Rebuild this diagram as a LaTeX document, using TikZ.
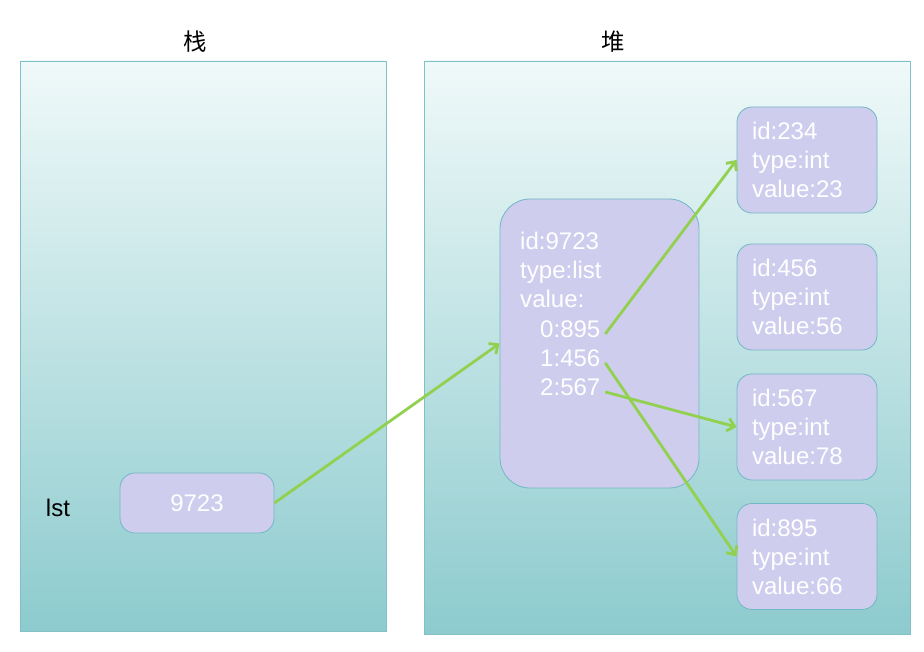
\documentclass[tikz,border=0pt]{standalone}
\usepackage{fontspec}
\setmainfont{Liberation Sans}
\newfontfamily\cjk{Noto Sans CJK SC}
\usetikzlibrary{positioning, arrows.meta}

\definecolor{boxfill}{HTML}{CFCDEE}
\definecolor{boxline}{HTML}{72B8C4}
\definecolor{panelline}{HTML}{80C0C6}
\definecolor{paneltop}{HTML}{F0F9F9}
\definecolor{panelbottom}{HTML}{8DCBCE}
\definecolor{linkgreen}{HTML}{92D050}

\begin{document}
\begin{tikzpicture}[
					x=0.03cm, y=-0.03cm,
					panel/.style={draw=panelline, line width=0.7pt, top color=paneltop, bottom color=panelbottom},
					obj/.style={draw=boxline, line width=0.7pt, fill=boxfill, rounded corners=0.45cm, text=white,
						font=\fontsize{20.5}{24.7}\selectfont},
					field/.style={anchor=base west, inner sep=0pt, text=white, font=\fontsize{20.5}{24.7}\selectfont},
					title/.style={font=\cjk\fontsize{20}{24}\selectfont},
					link/.style={draw=linkgreen, line width=2.4pt, -{Straight Barb[length=6pt, width=11pt]}}
					]
					\useasboundingbox (0,0) rectangle (924,652);
					% stack and heap
					\draw[panel] (20,61) rectangle (386,631);
					\draw[panel] (424,61) rectangle (910,634);
					\node[title] (stackTitle) at (195,42) {栈};
					\node[title] (heapTitle) at (613,42) {堆};
					% variable on the stack
					\node[font=\fontsize{20.5}{24.7}\selectfont] (lst) at (58,508) {lst};
					\node[obj, minimum width=4.62cm, minimum height=1.8cm] (ref) at (197,503) {9723};
					% list object
					\node[obj, rounded corners=0.9cm, minimum width=5.97cm, minimum height=8.67cm] (listObj) at (599.5,343.5) {};
					\node[field] (listId) at (520,249.5) {id:9723};
					\node[field] (listType) at (520,278.5) {type:list};
					\node[field] (listValue) at (520,307.5) {value:};
					\node[field] (e0) at (540,337.5) {0:895};
					\node[field] (e1) at (540,366.5) {1:456};
					\node[field] (e2) at (540,395.5) {2:567};
					% int objects
					\foreach \name/\idv/\val/\y in {obj234/234/23/160, obj456/456/56/297, obj567/567/78/427, obj895/895/66/556.5}
						\node[obj, align=left, text width=3.3cm, inner xsep=0.45cm, minimum height=3.18cm] (\name) at (807,\y)
							{id:\idv\\type:int\\value:\val};
					% references
					\draw[link] (ref.east) -- (listObj.west);
					\draw[link] ([xshift=4pt,yshift=-4pt]e0.east) -- (obj234.west);
					\draw[link] ([xshift=4pt,yshift=-4pt]e1.east) -- (obj895.west);
					\draw[link] ([xshift=4pt,yshift=-4pt]e2.east) -- (obj567.west);
				\end{tikzpicture}
\end{document}
